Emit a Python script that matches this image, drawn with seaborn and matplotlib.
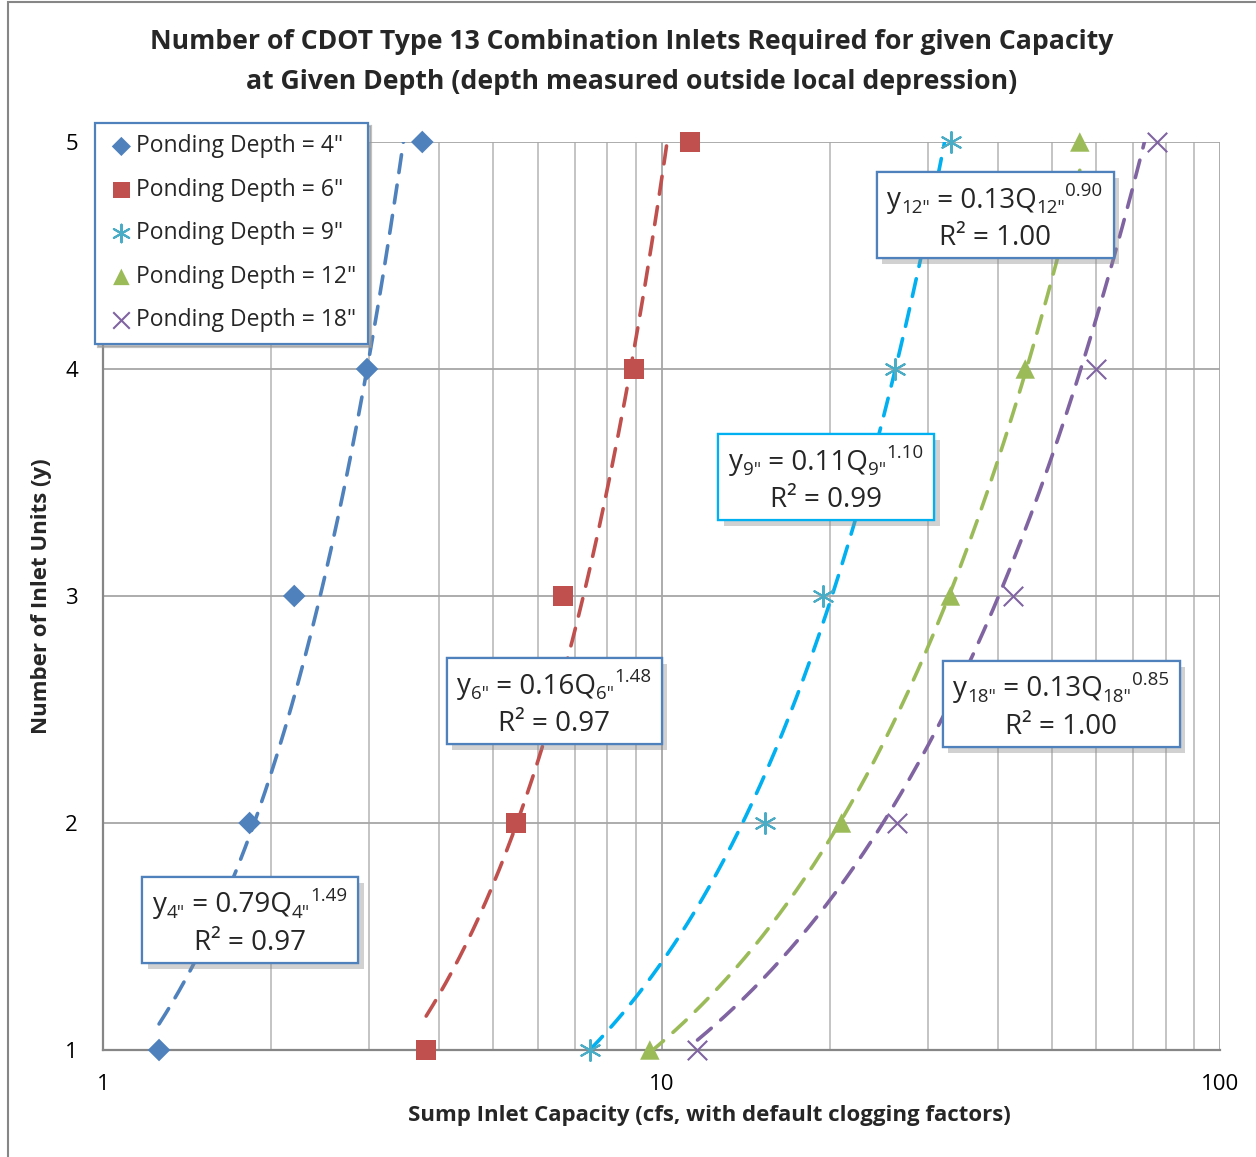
import numpy as np
import pandas as pd
import seaborn as sns
import matplotlib
matplotlib.use("Agg")
import matplotlib.pyplot as plt
from matplotlib import patheffects
from matplotlib.patches import Rectangle
from matplotlib.transforms import IdentityTransform
from matplotlib.ticker import LogLocator, NullFormatter, FixedLocator

# ---- data ----
units = [1, 2, 3, 4, 5]
q_4in = [1.26, 1.83, 2.20, 2.97, 3.73]
q_6in = [3.79, 5.49, 6.66, 8.93, 11.25]
q_9in = [7.45, 15.3, 19.5, 26.2, 33.0]
q_12in = [9.53, 21.0, 32.9, 44.8, 56.1]
q_18in = [11.6, 26.4, 42.6, 59.9, 77.1]
series_labels = ['Ponding Depth = 4"', 'Ponding Depth = 6"', 'Ponding Depth = 9"',
                 'Ponding Depth = 12"', 'Ponding Depth = 18"']
depth_tags = ['4"', '6"', '9"', '12"', '18"']
fit_a = [0.79, 0.16, 0.11, 0.13, 0.13]
fit_b = [1.49, 1.48, 1.10, 0.90, 0.85]
fit_r2 = ["0.97", "0.97", "0.99", "1.00", "1.00"]
x_ticks = [1, 10, 100]
y_ticks = [1, 2, 3, 4, 5]

# ---- styles ----
marker_colors = ["#4F81BD", "#C0504D", "#4BACC6", "#9BBB59", "#8064A2"]
line_colors = ["#4F81BD", "#C0504D", "#00B0F0", "#9BBB59", "#8064A2"]
markers = ["D", "s", (6, 2, 0), "^", "x"]
marker_sizes = [11.5, 14, 15, 14, 14]
box_edge = ["#4F81BD", "#4F81BD", "#00B0F0", "#4F81BD", "#4F81BD"]
box_pos = [(250, 920), (554, 701), (826, 477), (995, 215), (1061, 704)]
box_w = [216, 215, 216, 237, 237]
box_h = 86

sns.set_theme(style="white")
plt.rcParams['font.family'] = ['Open Sans', 'DejaVu Sans']

W, H = 1256, 1157
fig = plt.figure(figsize=(W / 100, H / 100), dpi=100)
ax = fig.add_axes([103 / W, 1 - 1050 / H, (1220 - 103) / W, (1050 - 142) / H])

qs = [q_4in, q_6in, q_9in, q_12in, q_18in]
frames = []
for lab, q in zip(series_labels, qs):
    frames.append(pd.DataFrame({"Q": q, "Units": units, "Series": lab}))
df = pd.concat(frames, ignore_index=True)

# power-law trendlines (coefficients from the chart labels)
for i, q in enumerate(qs):
    xs = np.geomspace(min(q), max(q), 200)
    ys = fit_a[i] * xs ** fit_b[i]
    ax.plot(xs, ys, color=line_colors[i], lw=2.6, dashes=(5, 3.5), zorder=3,
            dash_capstyle='round')

for i, lab in enumerate(series_labels):
    sub = df[df.Series == lab]
    mk = markers[i]
    line_marker = mk == "x" or isinstance(mk, tuple)
    kw = dict(linewidth=1.5) if line_marker else dict(linewidth=0, edgecolor='none')
    sns.scatterplot(data=sub, x="Q", y="Units", ax=ax, marker=mk,
                    s=marker_sizes[i] ** 2, color=marker_colors[i],
                    label=lab, zorder=5, clip_on=False, **kw)

ax.set_xscale("log")
ax.set_xlim(1, 100)
ax.set_ylim(1, 5)
ax.xaxis.set_major_locator(FixedLocator(x_ticks))
ax.set_xticklabels([str(v) for v in x_ticks])
ax.xaxis.set_minor_locator(LogLocator(base=10, subs=np.arange(2, 10)))
ax.xaxis.set_minor_formatter(NullFormatter())
ax.set_yticks(y_ticks)
ax.set_yticklabels([str(v) for v in y_ticks])
ax.grid(True, which="major", axis="both", color="#A6A6A6", lw=1.3)
ax.grid(True, which="minor", axis="x", color="#BFBFBF", lw=1.3)
ax.set_axisbelow(True)
for s in ["top", "right"]:
    ax.spines[s].set_visible(False)
for s in ["left", "bottom"]:
    ax.spines[s].set_color("#868686")
    ax.spines[s].set_linewidth(1.6)
ax.tick_params(axis="both", which="major", length=8, width=1.4, color="#868686",
               labelsize=16, labelcolor="black", direction="out")
ax.tick_params(axis="x", which="minor", length=0)
ax.tick_params(axis="x", which="major", pad=9)
ax.tick_params(axis="y", which="major", pad=10)
ax.set_xlabel("Sump Inlet Capacity (cfs, with default clogging factors)",
              fontsize=16, fontweight="bold")
ax.xaxis.set_label_coords((709 - 103) / (1220 - 103), -(1115 - 1050) / (1050 - 142))
ax.xaxis.label.set_va("center")
ax.set_ylabel("Number of Inlet Units (y)", fontsize=16, fontweight="bold")
ax.yaxis.set_label_coords(-(103 - 42) / (1220 - 103), 0.5)
ax.yaxis.label.set_va("center")

fig.text(632 / W, 1 - 62 / H,
         "Number of CDOT Type 13 Combination Inlets Required for given Capacity\n"
         "at Given Depth (depth measured outside local depression)",
         ha="center", va="center", fontsize=19.2, fontweight="bold", linespacing=1.68)

leg = ax.legend(loc="upper left", bbox_to_anchor=(95 / W, 1 - 123 / H),
                bbox_transform=fig.transFigure, borderaxespad=0, fontsize=16.5,
                frameon=True, fancybox=False, shadow={'color': '#999999', 'alpha': 0.6},
                handletextpad=0.0, handlelength=1.3, labelspacing=0.85,
                borderpad=0.5, markerscale=0.85)
leg.get_frame().set_edgecolor("#4F81BD")
leg.get_frame().set_linewidth(1.6)
leg.set_zorder(10)

# equation boxes (pixel layout, top-down y converted)
renderer = fig.canvas.get_renderer()
ident = IdentityTransform()
shadow = [patheffects.withSimplePatchShadow(offset=(4, -4), shadow_rgbFace="#8C8C8C", alpha=0.4),
          patheffects.Normal()]
for i in range(5):
    cx, cy = box_pos[i]
    ycen = H - cy
    rect = Rectangle((cx - box_w[i] / 2, ycen - box_h / 2), box_w[i], box_h,
                     transform=ident, fc="white", ec=box_edge[i], lw=1.6, zorder=11)
    rect.set_path_effects(shadow)
    fig.add_artist(rect)
    t = depth_tags[i]
    pieces = [("y", 20, 0), (t, 13.5, -6), (" = %.2fQ" % fit_a[i], 20, 0),
              (t, 13.5, -6), ("%.2f" % fit_b[i], 13.5, 11)]
    texts = []
    widths = []
    for s, fs, dy in pieces:
        tx = fig.text(0, 0, s, fontsize=fs, transform=ident, va="baseline", ha="left", zorder=12)
        widths.append(tx.get_window_extent(renderer).width)
        texts.append(tx)
    # subscripts and superscript: the superscript follows the subscript
    total = sum(widths)
    x0 = cx - total / 2
    base1 = H - (cy - 8)
    for (s, fs, dy), tx, w in zip(pieces, texts, widths):
        tx.set_position((x0, base1 + dy))
        x0 += w
    fig.text(cx, H - (cy + 30), "R² = %s" % fit_r2[i], fontsize=20, transform=ident,
             ha="center", va="baseline", zorder=12)

# outer chart border
fig.add_artist(Rectangle((8 / W, -0.01), 1.1, 1 - 2 / H + 0.01, transform=fig.transFigure,
                         fill=False, ec="#868686", lw=1.5))

fig.savefig("out.png", dpi=100)
